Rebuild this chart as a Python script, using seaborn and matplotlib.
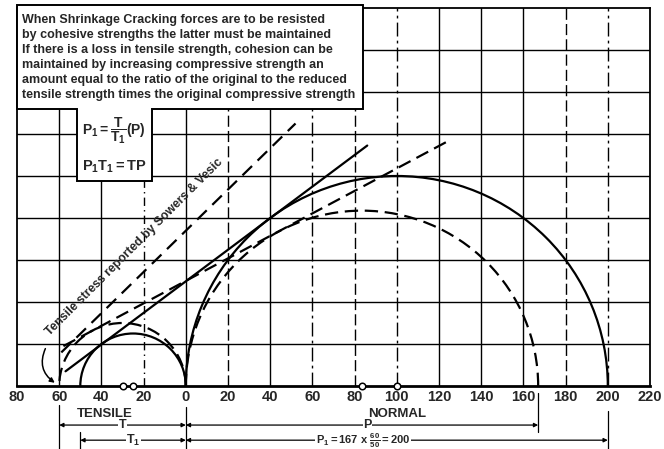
import matplotlib
matplotlib.use("Agg")
import matplotlib.pyplot as plt
from matplotlib.patches import Arc, Polygon, FancyArrowPatch
import seaborn as sns

# strengths
tensile = [60, 50]          # T, T1
compressive = [167, 200]    # P, P1

# envelope lines (end points)
solid_env_x = [-57, 86]
solid_env_y = [7, 114.5]
dashed_env_x = [-58, 125]
dashed_env_y = [19, 117]
sowers_x = [-59, 52]
sowers_y = [16, 125]

# circle centres marked on the axis
centre_marks = [-30, -25, 83.5, 100]

x_ticks = list(range(-80, 221, 20))
x_tick_labels = [str(abs(t)) for t in x_ticks]
grid_y = list(range(20, 180, 20))

note_lines = [
    "When Shrinkage Cracking forces are to be resisted",
    "by cohesive strengths the latter must be maintained",
    "If there is a loss in tensile strength, cohesion can be",
    "maintained by increasing compressive strength an",
    "amount equal to the ratio of the original to the reduced",
    "tensile strength times the original compressive strength",
]

sns.set_style("white")
plt.rcParams["font.family"] = ["Liberation Sans", "DejaVu Sans"]
plt.rcParams["font.weight"] = "bold"
plt.rcParams["mathtext.fontset"] = "custom"
plt.rcParams["mathtext.rm"] = "Liberation Sans:bold"
plt.rcParams["mathtext.it"] = "Liberation Sans:bold"
plt.rcParams["mathtext.bf"] = "Liberation Sans:bold"

fig = plt.figure(figsize=(6.64, 4.49), dpi=100)
ax = fig.add_axes([17 / 664, 63 / 449, 633 / 664, 378 / 449])
ax.set_xlim(-80, 220)
ax.set_ylim(0, 180)

# drafting grid, a mix of solid and broken lines
v_styles = {-60: "-", -40: "-", -20: (0, (6, 3, 1, 3)), 0: "-", 20: (0, (8, 3)),
            40: "-", 60: (0, (10, 3, 2, 3)), 80: (0, (8, 3)), 100: (0, (10, 3, 2, 3)),
            120: "-", 140: "-", 160: "-", 180: (0, (8, 3)), 200: (0, (10, 3, 2, 3))}
for xv, ls in v_styles.items():
    ax.axvline(xv, color="black", lw=1.0, linestyle=ls, zorder=1)
for yv in grid_y:
    ax.axhline(yv, color="black", lw=1.0, zorder=1)

# Mohr circles: dashed = original, solid = reduced tension
styles = [(0, (6, 3)), "-"]
for t, p, ls in zip(tensile, compressive, styles):
    for c, r in [(-t / 2, t / 2), (p / 2, p / 2)]:
        ax.add_patch(Arc((c, 0), 2 * r, 2 * r, theta1=0, theta2=180,
                         color="black", lw=1.6, linestyle=ls, zorder=3))

sns.lineplot(x=solid_env_x, y=solid_env_y, ax=ax, color="black", lw=1.6, zorder=3)
sns.lineplot(x=dashed_env_x, y=dashed_env_y, ax=ax, color="black", lw=1.6, zorder=3)
ax.lines[-1].set_dashes([6, 3])
sns.lineplot(x=sowers_x, y=sowers_y, ax=ax, color="black", lw=1.6, zorder=3)
ax.lines[-1].set_dashes([6, 3.5])

sns.scatterplot(x=centre_marks, y=[0] * len(centre_marks), ax=ax, marker="o",
                s=22, facecolor="white", edgecolor="black", linewidth=1.1,
                zorder=6, clip_on=False)

ax.text(-24.5, 66, "Tensile stress reported by Sowers & Vesic", rotation=45,
        ha="center", va="center", fontsize=8.8, fontweight="bold",
        rotation_mode="anchor", zorder=4)
ax.add_patch(FancyArrowPatch((-66, 19), (-61, 0.8), connectionstyle="arc3,rad=0.45",
                             arrowstyle="-|>", mutation_scale=7, lw=1.1,
                             color="black", zorder=4))

# note box with formula tab
box = [(-80, 181.5), (83.9, 181.5), (83.9, 131.8), (-16.1, 131.8), (-16.1, 97.6),
       (-51.7, 97.6), (-51.7, 131.8), (-80, 131.8)]
ax.add_patch(Polygon(box, closed=True, facecolor="white", edgecolor="black",
                     lw=1.4, zorder=8, clip_on=False))
for i, line in enumerate(note_lines):
    ax.text(-77.8, 174.2 - i * 7.1, line, ha="left", va="center", fontsize=9.0,
            fontweight="bold", zorder=9)
ax.text(-49, 121.5, r"$P_1 = \dfrac{T}{T_1}(P)$", ha="left", va="center",
        fontsize=10, zorder=9)
ax.text(-49, 104.5, r"$P_1T_1 = TP$", ha="left", va="center", fontsize=10.5, zorder=9)

# axes styling
ax.set_xticks(x_ticks, x_tick_labels)
ax.set_yticks([])
ax.tick_params(axis="x", length=0, pad=3, labelsize=10.5)
for lab in ax.get_xticklabels():
    lab.set_fontweight("bold")
for side, sp in ax.spines.items():
    sp.set_color("black")
    sp.set_linewidth(1.3)
ax.spines["bottom"].set_linewidth(2)

# labels and dimension lines below the axis
ax.text(-38.4, -13.2, "TENSILE", ha="center", va="center", fontsize=9.5, fontweight="bold")
ax.text(100, -13.2, "NORMAL", ha="center", va="center", fontsize=9.5, fontweight="bold")

ext_lines = [(-60, -9, -31), (-50, -22, -31), (0, -10, -31), (167, -3.3, -22), (200, -12, -31)]
for xv, y0, y1 in ext_lines:
    ax.plot([xv, xv], [y0, y1], color="black", lw=0.9, clip_on=False)

dims = [(-60, 0, -18.6, "T", -30, 9), (0, 167, -18.6, "P", 86, 9),
        (-50, 0, -25.8, r"$T_1$", -25, 9),
        (0, 200, -25.8, r"$P_1 = 167\ x\ \frac{60}{50} = 200$", 84, 8)]
for x0, x1, yv, lab, lx, fs in dims:
    ax.annotate("", xy=(x1, yv), xytext=(x0, yv), annotation_clip=False,
                arrowprops=dict(arrowstyle="<|-|>", lw=0.9, mutation_scale=6,
                                shrinkA=0, shrinkB=0, color="black"))
    ax.text(lx, yv, lab, ha="center", va="center", fontsize=fs, fontweight="bold",
            bbox=dict(facecolor="white", edgecolor="none", pad=0.3), clip_on=False)

fig.savefig("out.png", dpi=100)
